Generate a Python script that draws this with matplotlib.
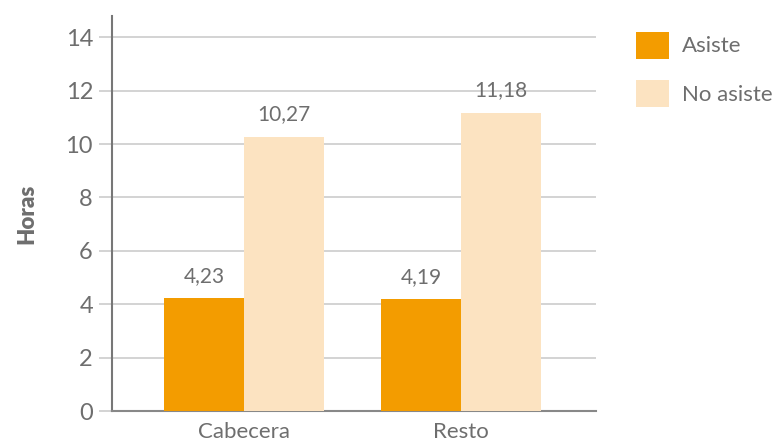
import numpy as np
import matplotlib.pyplot as plt

categories = ['Cabecera', 'Resto']
asiste = [4.23, 4.19]
no_asiste = [10.27, 11.18]
series_names = ['Asiste', 'No asiste']
y_ticks = [0, 2, 4, 6, 8, 10, 12, 14]

ORANGE = '#f39c00'
LIGHT = '#fce3c1'
TEXT = '#6e6e6e'
GRID = '#cccccc'

plt.rcParams['font.family'] = ['Lato', 'DejaVu Sans']


def fmt(v):
    return '{:.2f}'.format(v).replace('.', ',')


def draw_chart():
    fig = plt.figure(figsize=(7.81, 4.45), dpi=100)
    ax = fig.add_axes([0.1434, 0.0764, 0.6196, 0.8876])

    x = np.arange(len(categories))
    width = 0.369
    b1 = ax.bar(x - width / 2, asiste, width, color=ORANGE, label=series_names[0], zorder=3)
    b2 = ax.bar(x + width / 2, no_asiste, width, color=LIGHT, label=series_names[1], zorder=3)

    for bars in (b1, b2):
        for rect in bars:
            h = rect.get_height()
            ax.annotate(fmt(h), (rect.get_x() + rect.get_width() / 2, h),
                        xytext=(0, 9), textcoords='offset points',
                        ha='center', va='bottom', fontsize=15, color=TEXT)

    ax.set_xlim(-0.608, 1.622)
    ax.set_ylim(0, 14.8)
    ax.set_yticks(y_ticks)
    ax.set_yticklabels([str(t) for t in y_ticks])
    ax.set_xticks(x)
    ax.set_xticklabels(categories)

    ax.grid(axis='y', color=GRID, linewidth=1.2, zorder=0)
    ax.tick_params(axis='y', length=9.4, width=1.2, color=GRID, pad=4.3,
                   labelsize=17, labelcolor=TEXT)
    ax.tick_params(axis='x', length=0, pad=8, labelsize=16, labelcolor=TEXT)

    for side in ('top', 'right'):
        ax.spines[side].set_visible(False)
    ax.spines['left'].set_color('#777777')
    ax.spines['left'].set_linewidth(1.5)
    ax.spines['bottom'].set_color('#888888')
    ax.spines['bottom'].set_linewidth(1.5)

    ax.set_ylabel('Horas', fontsize=16, fontweight='heavy', color=TEXT, labelpad=20)

    ax.legend(loc='upper left', bbox_to_anchor=(1.05, 1.0), frameon=False,
              fontsize=16, labelcolor=TEXT, handlelength=1.5, handleheight=1.5,
              labelspacing=0.95, handletextpad=0.6, borderaxespad=0.3)

    fig.savefig('out.png', dpi=100)


if __name__ == '__main__':
    draw_chart()
